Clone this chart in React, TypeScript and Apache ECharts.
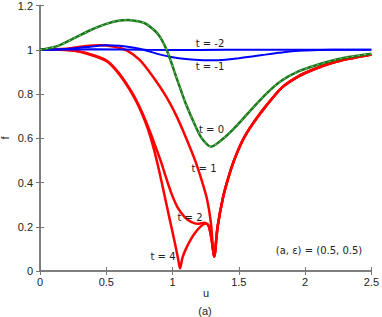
import React, { useEffect, useRef } from "react";
import * as echarts from "echarts";

const xTicks = [0, 0.5, 1, 1.5, 2, 2.5];
const yTicks = [0, 0.2, 0.4, 0.6, 0.8, 1, 1.2];

// t = -2 (blue)
const tM2: number[][] = [
  [0, 1], [0.4, 1.002], [0.8, 1.0], [1.2, 0.999], [1.6, 1.0], [2.0, 1.0], [2.5, 1.0],
];

// t = -1 (blue)
const tM1: number[][] = [
  [0, 1], [0.2, 1.003], [0.35, 1.012], [0.5, 1.02], [0.6, 1.018], [0.7, 1.01],
  [0.8, 0.997], [0.9, 0.979], [1.0, 0.966], [1.1, 0.958], [1.2, 0.954], [1.3, 0.952],
  [1.4, 0.955], [1.5, 0.962], [1.6, 0.97], [1.7, 0.978], [1.8, 0.986], [1.9, 0.993],
  [2.0, 0.997], [2.2, 1.0], [2.5, 1.0],
];

// t = 0 (green)
const t0: number[][] = [
  [0, 1], [0.125, 1.015], [0.25, 1.05], [0.375, 1.087], [0.5, 1.117], [0.6, 1.132],
  [0.663, 1.135], [0.75, 1.128], [0.8, 1.117], [0.888, 1.072], [0.955, 1.0],
  [1.026, 0.88], [1.1, 0.756], [1.176, 0.651], [1.226, 0.595], [1.29, 0.562],
  [1.351, 0.583], [1.45, 0.636], [1.577, 0.718], [1.714, 0.805], [1.827, 0.862],
  [1.95, 0.902], [2.077, 0.929], [2.2, 0.95], [2.327, 0.967], [2.5, 0.982],
];

// shared right branch of the red curves after the cusp at u ≈ 1.31
const redRight: number[][] = [
  [1.314, 0.065], [1.34, 0.2], [1.38, 0.33], [1.42, 0.42], [1.464, 0.5],
  [1.52, 0.58], [1.577, 0.64], [1.64, 0.695], [1.7, 0.742], [1.827, 0.83],
  [1.95, 0.88], [2.077, 0.914], [2.2, 0.94], [2.327, 0.959], [2.5, 0.979],
];

// t = 1 (red)
const t1Left: number[][] = [
  [0, 1], [0.2, 1.005], [0.35, 1.017], [0.45, 1.02], [0.55, 1.015], [0.65, 0.998],
  [0.75, 0.955], [0.85, 0.88], [0.95, 0.79], [1.03, 0.7], [1.1, 0.605], [1.17, 0.5],
  [1.22, 0.41], [1.26, 0.325], [1.289, 0.22],
];

// t = 2 (red)
const t2Left: number[][] = [
  [0, 1], [0.15, 1.0], [0.25, 0.997], [0.35, 0.985], [0.5, 0.952], [0.6, 0.891],
  [0.7, 0.8], [0.763, 0.726], [0.82, 0.645], [0.87, 0.565], [0.915, 0.49],
  [0.955, 0.415], [0.995, 0.345], [1.04, 0.285], [1.09, 0.245], [1.14, 0.222],
  [1.19, 0.213], [1.239, 0.218], [1.27, 0.207], [1.295, 0.14],
];

// t = 4 (red)
const t4Left: number[][] = [
  [0, 1], [0.15, 1.0], [0.25, 0.996], [0.35, 0.983], [0.5, 0.949], [0.6, 0.887],
  [0.7, 0.796], [0.763, 0.72], [0.815, 0.64], [0.86, 0.55], [0.9, 0.45],
  [0.94, 0.34], [0.98, 0.23], [1.02, 0.12], [1.045, 0.045], [1.056, 0.012],
  [1.075, 0.06], [1.101, 0.1], [1.14, 0.145], [1.176, 0.177], [1.215, 0.203],
  [1.251, 0.215], [1.275, 0.2], [1.295, 0.14],
];

const t1 = [...t1Left, ...redRight];
const t2 = [...t2Left, ...redRight];
const t4 = [...t4Left, ...redRight];

const AXIS = "#777777";
const TXT = "#222222";
const ANN_FONT = "DejaVu Sans";
const TICK_FONT = "Liberation Sans";

export default function App() {
  const ref = useRef<HTMLDivElement>(null);
  useEffect(() => {
    if (!ref.current) return;
    const chart = echarts.init(ref.current, undefined, { renderer: "svg" });
    const fmt = (v: number) => String(Math.round(v * 10) / 10);
    const axisCommon = {
      type: "value" as const,
      axisLine: { show: true, lineStyle: { color: AXIS, width: 1.5 } },
      axisTick: { show: true, inside: true, length: 4, lineStyle: { color: AXIS, width: 1 } },
      splitLine: { show: false },
    };
    const line = (data: number[][], color: string, width: number, z: number, extra: any = {}) => ({
      type: "line",
      data,
      showSymbol: false,
      smooth: 0.3,
      lineStyle: { color, width, ...extra },
      z,
      silent: true,
    });
    const ann = (text: string, x: number, y: number) => ({
      type: "text",
      x,
      y,
      style: {
        text,
        fill: TXT,
        font: `10px "${ANN_FONT}"`,
        align: "center",
        verticalAlign: "middle",
      },
      z: 100,
    });
    chart.setOption({
      animation: false,
      grid: { left: 40, top: 5, right: 9, bottom: 46 },
      xAxis: [
        {
          ...axisCommon,
          min: 0,
          max: 2.5,
          interval: 0.5,
          position: "bottom",
          axisLabel: {
            show: true,
            formatter: fmt,
            color: TXT,
            fontFamily: TICK_FONT,
            fontSize: 11,
            margin: 5,
            customValues: xTicks,
          },
        },
        {
          ...axisCommon,
          min: 0,
          max: 2.5,
          interval: 0.5,
          position: "top",
          axisLabel: { show: false },
        },
      ],
      yAxis: [
        {
          ...axisCommon,
          min: 0,
          max: 1.2,
          interval: 0.2,
          position: "left",
          axisLabel: {
            show: true,
            formatter: fmt,
            color: TXT,
            fontFamily: TICK_FONT,
            fontSize: 11,
            margin: 7,
            customValues: yTicks,
          },
        },
        {
          ...axisCommon,
          min: 0,
          max: 1.2,
          interval: 0.2,
          position: "right",
          axisLabel: { show: false },
        },
      ],
      series: [
        line(t4, "#ff0000", 2.5, 2),
        line(t2, "#ff0000", 2.5, 2),
        line(t1, "#ff0000", 2.5, 2),
        line(tM2, "#0000ff", 2, 3),
        line(tM1, "#0000ff", 2, 3),
        line(t0, "#1a7a1a", 2.5, 4),
        line(t0, "#9fd89f", 0.8, 5, { type: [2, 4] }),
      ],
      graphic: [
        ann("t = -2", 210, 43),
        ann("t = -1", 210, 66.5),
        ann("t = 0", 211.5, 129.5),
        ann("t = 1", 204, 168.7),
        ann("t = 2", 190, 217),
        ann("t = 4", 163, 256.3),
        ann("(a, ε) = (0.5, 0.5)", 319, 250),
        {
          type: "text",
          x: 206,
          y: 293,
          style: { text: "u", fill: TXT, font: `11px "${TICK_FONT}"`, align: "center", verticalAlign: "middle" },
        },
        {
          type: "text",
          x: 205,
          y: 311,
          style: { text: "(a)", fill: TXT, font: `11px "${TICK_FONT}"`, align: "center", verticalAlign: "middle" },
        },
        {
          type: "text",
          x: 5,
          y: 138,
          rotation: Math.PI / 2,
          style: { text: "f", fill: TXT, font: `11px "${TICK_FONT}"`, align: "center", verticalAlign: "middle" },
        },
      ],
    });
    return () => chart.dispose();
  }, []);
  return (
    <div
      ref={ref}
      style={{ position: "fixed", left: 0, top: 0, width: 382, height: 317, background: "#fff" }}
    />
  );
}
